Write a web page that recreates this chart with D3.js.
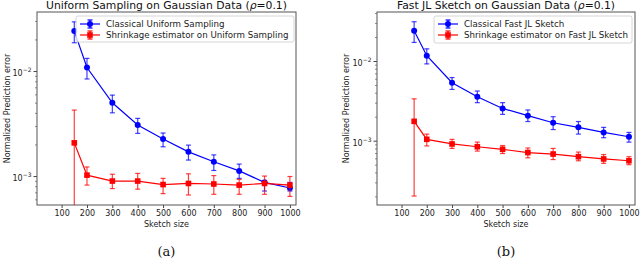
<!DOCTYPE html>
<html>
<head>
<meta charset="utf-8">
<script src="https://cdn.jsdelivr.net/npm/d3@7"></script>
<style>
  body { margin: 0; background: #fff; }
  svg { display: block; font-family: "DejaVu Sans", sans-serif; }
</style>
</head>
<body>
<div id="chart"></div>
<script>
/* Sketch sizes on the x axis */
const sizes = [150, 200, 300, 400, 500, 600, 700, 800, 900, 1000];
const xTicks = [100, 200, 300, 400, 500, 600, 700, 800, 900, 1000];

/* Panel (a): uniform sampling, mean and error bar ends */
const uniformClassical = [0.0240, 0.0108, 0.00499, 0.00306, 0.00225, 0.00170, 0.00137, 0.00112, 0.00087, 0.00077];
const uniformClassicalHi = [0.0294, 0.0132, 0.0059, 0.00354, 0.00257, 0.00197, 0.00159, 0.00130, 0.00091, 0.00087];
const uniformClassicalLo = [0.0186, 0.0084, 0.0040, 0.00255, 0.00190, 0.00142, 0.00113, 0.00095, 0.00072, 0.00072];
const uniformShrink = [0.00207, 0.00102, 0.000896, 0.000896, 0.00083, 0.00085, 0.00084, 0.00082, 0.00085, 0.00082];
const uniformShrinkHi = [0.00425, 0.00122, 0.00104, 0.00106, 0.00095, 0.00105, 0.00101, 0.00093, 0.00100, 0.00099];
const uniformShrinkLo = [0.0001, 0.00082, 0.00076, 0.00075, 0.00068, 0.00066, 0.00067, 0.00067, 0.00067, 0.00064];

/* Panel (b): fast JL sketch */
const fjlClassical = [0.0240, 0.01166, 0.00534, 0.00356, 0.00254, 0.00206, 0.00168, 0.00147, 0.00127, 0.00112];
const fjlClassicalHi = [0.0311, 0.0142, 0.0062, 0.0042, 0.0030, 0.00243, 0.0020, 0.00174, 0.00147, 0.00127];
const fjlClassicalLo = [0.0171, 0.0092, 0.0044, 0.0030, 0.00214, 0.00174, 0.00138, 0.00121, 0.00109, 0.00096];
const fjlShrink = [0.00175, 0.00104, 0.00091, 0.00084, 0.00078, 0.00071, 0.00068, 0.00063, 0.00059, 0.00056];
const fjlShrinkHi = [0.00335, 0.00121, 0.00104, 0.00096, 0.00087, 0.00081, 0.00080, 0.00072, 0.00067, 0.00063];
const fjlShrinkLo = [0.000202, 0.00086, 0.00080, 0.00074, 0.00069, 0.00061, 0.00058, 0.00056, 0.00052, 0.00050];

const width = 640, height = 259;

const svg = d3.select("#chart")
  .append("svg")
  .attr("width", width)
  .attr("height", height);

const zip = (m, lo, hi) => sizes.map((s, i) => ({x: s, y: m[i], lo: lo[i], hi: hi[i]}));

const panels = [
  {
    id: "a", left: 37, right: 296, top: 12, bottom: 205,
    yDomain: [0.00053, 0.0365],
    title: "Uniform Sampling on Gaussian Data (",
    caption: "(a)", ylabelX: 7,
    legend: {x: 76, y: 16, w: 218, h: 26},
    series: [
      {name: "Classical Uniform Sampling", color: "#0000ff", marker: "circle",
        data: zip(uniformClassical, uniformClassicalLo, uniformClassicalHi)},
      {name: "Shrinkage estimator on Uniform Sampling", color: "#ff0000", marker: "square",
        data: zip(uniformShrink, uniformShrinkLo, uniformShrinkHi)}
    ]
  },
  {
    id: "b", left: 377, right: 635, top: 12, bottom: 205,
    yDomain: [0.000156, 0.0412],
    title: "Fast JL Sketch on Gaussian Data (",
    caption: "(b)", ylabelX: 346,
    legend: {x: 434, y: 16, w: 198, h: 27},
    series: [
      {name: "Classical Fast JL Sketch", color: "#0000ff", marker: "circle",
        data: zip(fjlClassical, fjlClassicalLo, fjlClassicalHi)},
      {name: "Shrinkage estimator on Fast JL Sketch", color: "#ff0000", marker: "square",
        data: zip(fjlShrink, fjlShrinkLo, fjlShrinkHi)}
    ]
  }
];

const drawMarker = (g, type, color) => {
  if (type === "circle") {
    g.append("circle").attr("r", 3).attr("fill", color);
  } else {
    g.append("rect").attr("x", -2.8).attr("y", -2.8).attr("width", 5.6).attr("height", 5.6).attr("fill", color);
  }
};

panels.forEach(p => {
  const x = d3.scaleLinear().domain([3, 1024]).range([p.left, p.right]);
  const y = d3.scaleLog().domain(p.yDomain).range([p.bottom, p.top]);

  const g = svg.append("g");

  g.append("clipPath").attr("id", "clip-" + p.id)
    .append("rect")
    .attr("x", p.left).attr("y", p.top)
    .attr("width", p.right - p.left).attr("height", p.bottom - p.top);

  /* axes */
  const xAxis = d3.axisBottom(x).tickValues(xTicks).tickSize(3).tickPadding(2).tickFormat(d3.format("d"));
  const xg = g.append("g")
    .attr("transform", `translate(0,${p.bottom})`)
    .call(xAxis);
  xg.select(".domain").remove();
  xg.selectAll("text").attr("font-size", 8).attr("fill", "#222").attr("font-family", "DejaVu Sans");
  xg.selectAll("line").attr("stroke", "#444");

  // minor log ticks
  const [d0, d1] = p.yDomain;
  const minor = [];
  for (let e = -5; e <= -1; e++) {
    for (let k = 2; k <= 9; k++) {
      const v = k * Math.pow(10, e);
      if (v >= d0 && v <= d1) minor.push(v);
    }
  }
  const yMinor = g.append("g")
    .attr("transform", `translate(${p.left},0)`)
    .call(d3.axisLeft(y).tickValues(minor).tickSize(2).tickFormat(""));
  yMinor.select(".domain").remove();
  yMinor.selectAll("line").attr("stroke", "#444").attr("stroke-width", 0.6);

  const yg = g.append("g")
    .attr("transform", `translate(${p.left},0)`)
    .call(d3.axisLeft(y).tickValues([0.01, 0.001]).tickSize(3.5).tickPadding(2).tickFormat(() => "10"));
  yg.select(".domain").remove();
  yg.selectAll("line").attr("stroke", "#444");
  yg.selectAll("text")
    .attr("font-size", 8).attr("fill", "#222").attr("font-family", "DejaVu Sans")
    .attr("dy", "0.55em")
    .append("tspan")
    .attr("dy", "-0.6em")
    .attr("font-size", 6)
    .text(d => "\u2212" + Math.round(-Math.log10(d)));

  // frame
  g.append("rect")
    .attr("x", p.left).attr("y", p.top)
    .attr("width", p.right - p.left).attr("height", p.bottom - p.top)
    .attr("fill", "none").attr("stroke", "#555").attr("stroke-width", 1);

  /* series: error bars, line, markers */
  const line = d3.line().x(d => x(d.x)).y(d => y(d.y));
  const plot = g.append("g").attr("clip-path", `url(#clip-${p.id})`);

  p.series.forEach(s => {
    const eb = plot.append("g")
      .attr("stroke", s.color).attr("stroke-opacity", 0.75).attr("stroke-width", 1.2);
    eb.selectAll("line.v").data(s.data).join("line")
      .attr("class", "v")
      .attr("x1", d => x(d.x)).attr("x2", d => x(d.x))
      .attr("y1", d => y(d.lo)).attr("y2", d => y(d.hi));
    eb.selectAll("line.capHi").data(s.data).join("line")
      .attr("class", "capHi")
      .attr("x1", d => x(d.x) - 2.5).attr("x2", d => x(d.x) + 2.5)
      .attr("y1", d => y(d.hi)).attr("y2", d => y(d.hi));
    eb.selectAll("line.capLo").data(s.data).join("line")
      .attr("class", "capLo")
      .attr("x1", d => x(d.x) - 2.5).attr("x2", d => x(d.x) + 2.5)
      .attr("y1", d => y(d.lo)).attr("y2", d => y(d.lo));

    plot.append("path")
      .datum(s.data)
      .attr("d", line)
      .attr("fill", "none")
      .attr("stroke", s.color)
      .attr("stroke-width", 1.2);

    plot.selectAll(null).data(s.data).join("g")
      .attr("transform", d => `translate(${x(d.x)},${y(d.y)})`)
      .each(function() { drawMarker(d3.select(this), s.marker, s.color); });
  });

  /* legend */
  const lg = g.append("g").attr("transform", `translate(${p.legend.x},${p.legend.y})`);
  lg.append("rect")
    .attr("width", p.legend.w).attr("height", p.legend.h)
    .attr("rx", 2)
    .attr("fill", "#fff").attr("fill-opacity", 0.8)
    .attr("stroke", "#ccc").attr("stroke-width", 0.8);
  p.series.forEach((s, i) => {
    const row = lg.append("g").attr("transform", `translate(0,${8 + i * 11})`);
    row.append("line").attr("x1", 4).attr("x2", 24).attr("stroke", s.color).attr("stroke-width", 1.2);
    row.append("line").attr("x1", 14).attr("x2", 14).attr("y1", -4).attr("y2", 4)
      .attr("stroke", s.color).attr("stroke-width", 1.2);
    row.append("line").attr("x1", 11.5).attr("x2", 16.5).attr("y1", -4).attr("y2", -4)
      .attr("stroke", s.color).attr("stroke-width", 1.2);
    row.append("line").attr("x1", 11.5).attr("x2", 16.5).attr("y1", 4).attr("y2", 4)
      .attr("stroke", s.color).attr("stroke-width", 1.2);
    const m = row.append("g").attr("transform", "translate(14,0)");
    drawMarker(m, s.marker, s.color);
    row.append("text")
      .attr("x", 30).attr("dy", "0.35em")
      .attr("font-size", 8.7).attr("fill", "#222")
      .text(s.name);
  });

  /* titles and labels */
  const cx = (p.left + p.right) / 2;
  const title = g.append("text")
    .attr("x", cx).attr("y", 9)
    .attr("text-anchor", "middle")
    .attr("font-size", 10.8).attr("fill", "#111");
  title.append("tspan").text(p.title);
  title.append("tspan").attr("font-style", "italic").text("\u03c1");
  title.append("tspan").text("=0.1)");

  g.append("text")
    .attr("x", cx).attr("y", 227)
    .attr("text-anchor", "middle")
    .attr("font-size", 8).attr("fill", "#222")
    .text("Sketch size");

  g.append("text")
    .attr("transform", `translate(${p.ylabelX},${(p.top + p.bottom) / 2}) rotate(-90)`)
    .attr("text-anchor", "middle")
    .attr("dy", "0.35em")
    .attr("font-size", 8).attr("fill", "#222")
    .text("Normalized Prediction error");

  g.append("text")
    .attr("x", cx).attr("y", 256)
    .attr("text-anchor", "middle")
    .attr("font-size", 13).attr("fill", "#111")
    .attr("font-family", "DejaVu Serif, serif")
    .text(p.caption);
});
</script>
</body>
</html>
